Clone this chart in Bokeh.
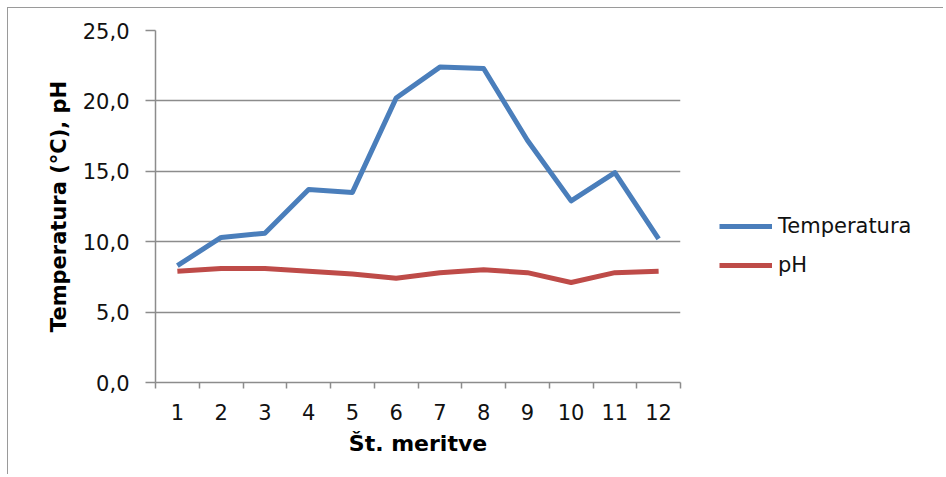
from bokeh.plotting import figure
from bokeh.layouts import row
from bokeh.models import FixedTicker, Legend, LegendItem, Range1d
from bokeh.embed import file_html
from bokeh.resources import INLINE

# ---- data ----
measurements = list(range(1, 13))
temperature = [8.3, 10.3, 10.6, 13.7, 13.5, 20.2, 22.4, 22.3, 17.2, 12.9, 14.9, 10.2]
ph = [7.9, 8.1, 8.1, 7.9, 7.7, 7.4, 7.8, 8.0, 7.8, 7.1, 7.8, 7.9]
series_names = ["Temperatura", "pH"]
y_ticks = [0, 5, 10, 15, 20, 25]
y_tick_labels = ["0,0", "5,0", "10,0", "15,0", "20,0", "25,0"]
x_title = "Št. meritve"
y_title = "Temperatura (°C), pH"

FONT = "DejaVu Sans"
GRID = "#8c8c8c"
BLUE = "#4a7ebb"
RED = "#be4b48"
H = 466

p = figure(width=682, height=H, output_backend="svg", toolbar_location=None,
           x_range=Range1d(0.5, 12.5), y_range=Range1d(0, 25),
           min_border_left=147, min_border_top=22, min_border_bottom=92,
           min_border_right=10)
p.background_fill_color = "white"
p.border_fill_color = "white"
p.outline_line_color = None

# x axis (category style: ticks between categories)
xa = p.xaxis[0]
xa.ticker = FixedTicker(ticks=measurements,
                        minor_ticks=[m - 0.5 for m in measurements] + [measurements[-1] + 0.5])
xa.major_label_overrides = {m: str(m) for m in measurements}
xa.major_tick_out = 0
xa.major_tick_in = 0
xa.minor_tick_out = 6
xa.minor_tick_in = 0
xa.minor_tick_line_color = GRID
xa.minor_tick_line_width = 1.5
xa.axis_line_color = GRID
xa.axis_line_width = 1.5
xa.major_label_standoff = 15
xa.major_label_text_font = FONT
xa.major_label_text_font_size = "21px"
xa.major_label_text_color = "#111111"
xa.axis_label = x_title
xa.axis_label_text_font = FONT
xa.axis_label_text_font_size = "22px"
xa.axis_label_text_font_style = "bold"
xa.axis_label_text_color = "#000000"
xa.axis_label_standoff = 8

ya = p.yaxis[0]
ya.ticker = FixedTicker(ticks=y_ticks, minor_ticks=[])
ya.major_label_overrides = dict(zip(y_ticks, y_tick_labels))
ya.major_tick_out = 10
ya.major_tick_in = 0
ya.major_tick_line_color = GRID
ya.major_tick_line_width = 1.5
ya.minor_tick_out = 0
ya.minor_tick_in = 0
ya.axis_line_color = GRID
ya.axis_line_width = 1.5
ya.major_label_standoff = 16
ya.major_label_text_font = FONT
ya.major_label_text_font_size = "21px"
ya.major_label_text_color = "#111111"
ya.axis_label = y_title
ya.axis_label_text_font = FONT
ya.axis_label_text_font_size = "21px"
ya.axis_label_text_font_style = "bold"
ya.axis_label_text_color = "#000000"
ya.axis_label_standoff = 9

p.xgrid.grid_line_color = None
p.ygrid.ticker = FixedTicker(ticks=y_ticks[1:])
p.ygrid.grid_line_color = GRID
p.ygrid.grid_line_width = 1.5

r1 = p.line(measurements, temperature, line_color=BLUE, line_width=5, line_join="round")
r2 = p.line(measurements, ph, line_color=RED, line_width=5, line_join="round")

# legend panel as a separate, axis-less figure so that it is not clipped;
# its range lies away from the data, so only the legend keys show
lg = figure(width=253, height=H, output_backend="svg", toolbar_location=None,
            x_axis_type=None, y_axis_type=None,
            x_range=Range1d(-10, -9), y_range=Range1d(-10, -9), min_border=0)
lg.outline_line_color = None
lg.background_fill_color = "white"
lg.border_fill_color = "white"
lg.xgrid.grid_line_color = None
lg.ygrid.grid_line_color = None
k1 = lg.line(measurements, temperature, line_color=BLUE, line_width=5)
k2 = lg.line(measurements, ph, line_color=RED, line_width=5)

legend = Legend(items=[LegendItem(label=series_names[0], renderers=[k1]),
                       LegendItem(label=series_names[1], renderers=[k2])],
                location=(29, 105), orientation="vertical")
legend.glyph_width = 53
legend.glyph_height = 20
legend.label_height = 20
legend.label_standoff = 6
legend.spacing = 15
legend.padding = 0
legend.margin = 0
legend.border_line_alpha = 0
legend.background_fill_alpha = 0
legend.label_text_font = FONT
legend.label_text_font_size = "21px"
legend.label_text_color = "#111111"
lg.add_layout(legend)

layout = row(p, lg, spacing=0)
layout.styles = {"margin-left": "7px", "margin-top": "7px",
                 "border-left": "1.5px solid #9a9a9a", "border-top": "1.5px solid #9a9a9a"}

open("out.html", "w").write(file_html(layout, INLINE))
